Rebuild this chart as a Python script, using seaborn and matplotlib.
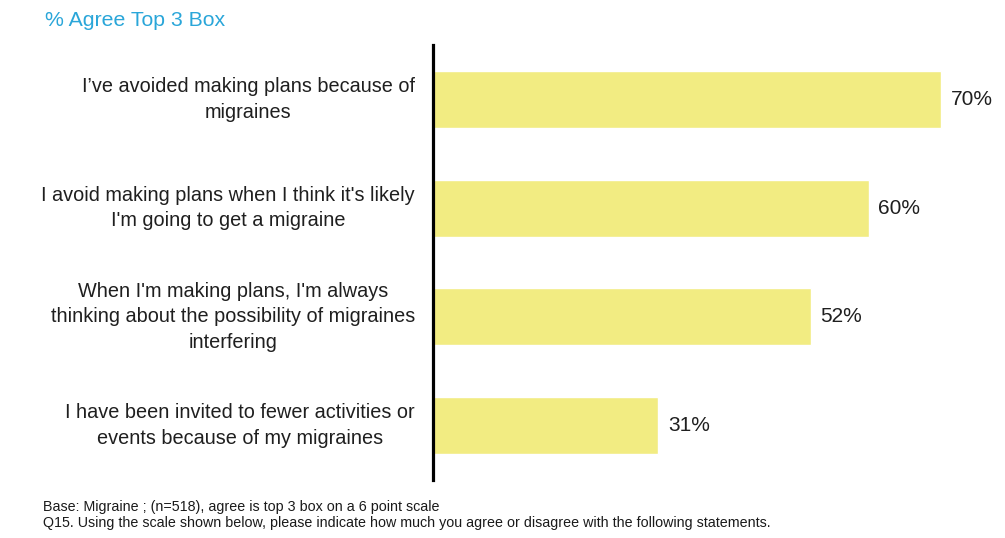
import matplotlib
matplotlib.use("Agg")
import matplotlib.pyplot as plt
import seaborn as sns
import pandas as pd

statements = [
    "I\u2019ve avoided making plans because of\nmigraines",
    "I avoid making plans when I think it's likely\nI'm going to get a migraine",
    "When I'm making plans, I'm always\nthinking about the possibility of migraines\ninterfering",
    "I have been invited to fewer activities or\nevents because of my migraines",
]
agree_pct = [70, 60, 52, 31]
value_labels = ["70%", "60%", "52%", "31%"]

title = "% Agree Top 3 Box"
footnotes = [
    "Base: Migraine ; (n=518), agree is top 3 box on a 6 point scale",
    "Q15. Using the scale shown below, please indicate how much you agree or disagree with the following statements.",
]

sns.set_theme(style="white")
plt.rcParams["font.family"] = ["Liberation Sans", "DejaVu Sans"]

df = pd.DataFrame({"statement": statements, "pct": agree_pct})

fig = plt.figure(figsize=(10.05, 5.38), dpi=100)
ax = fig.add_axes([433 / 1005, 1 - 480 / 538, 567 / 1005, 435 / 538])

sns.barplot(data=df, x="pct", y="statement", orient="h", color="#F2EC82",
            saturation=1, width=0.525, ax=ax)

ax.set_xlim(0, 567 / 7.26)
ax.set_ylim(3.5, -0.5)
ax.set_xlabel("")
ax.set_ylabel("")
ax.set_xticks([])
ax.set_yticks([])
for s in ["top", "right", "bottom"]:
    ax.spines[s].set_visible(False)
ax.spines["left"].set_color("black")
ax.spines["left"].set_linewidth(2.3)

for i, (v, lab) in enumerate(zip(agree_pct, value_labels)):
    ax.text(v + 1.35, i, lab, va="center", ha="left", fontsize=15, color="#1f1f1f")

# category labels drawn to the left of the axis, right-aligned
for i, s in enumerate(statements):
    ax.annotate(s, xy=(0, i), xycoords=("axes fraction", "data"),
                xytext=(-13, 0), textcoords="offset points",
                ha="right", va="center", multialignment="center",
                fontsize=14.3, color="#1f1f1f", linespacing=1.45)

fig.text(45 / 1005, 1 - 20 / 538, title, color="#2AA6D9", fontsize=15.3,
         ha="left", va="center")
fig.text(43 / 1005, 1 - 507 / 538, footnotes[0], fontsize=10.3,
         ha="left", va="center", color="#1a1a1a")
fig.text(43 / 1005, 1 - 523 / 538, footnotes[1], fontsize=10.3,
         ha="left", va="center", color="#1a1a1a")

fig.savefig("out.png", dpi=100, facecolor="white")
